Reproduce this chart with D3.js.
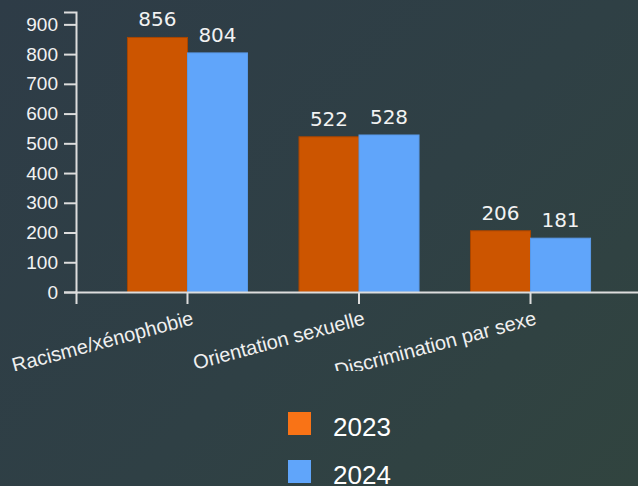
<!DOCTYPE html>
<html>
<head>
<meta charset="utf-8">
<script src="https://cdn.jsdelivr.net/npm/d3@7"></script>
<style>
  html, body { margin: 0; padding: 0; }
  body {
    width: 638px; height: 486px; overflow: hidden;
    background: linear-gradient(135deg, #2e3c47 0%, #2f4045 55%, #31443f 100%);
  }
  svg { display: block; }
</style>
</head>
<body>
<svg id="chart"></svg>
<script>
// data
const categories = ['Racisme/xénophobie', 'Orientation sexuelle', 'Discrimination par sexe'];
const years = ['2023', '2024'];
const values2023 = [856, 522, 206];
const values2024 = [804, 528, 181];
const yTicks = [0, 100, 200, 300, 400, 500, 600, 700, 800, 900];

const barColors = {'2023': '#cc5500', '2024': '#60a5fa'};
const barStrokes = {'2023': '#a84500', '2024': '#5a9ae8'};
const legendColors = {'2023': '#f97316', '2024': '#60a5fa'};

let rows = categories.map((c, i) => ({category: c, '2023': values2023[i], '2024': values2024[i]}));

let margin = {top: 12, left: 76};
let plotBottom = 292;
let chartHeight = 371;

let svg = d3.select('#chart')
    .attr('width', 638)
    .attr('height', 486);

svg.append('defs').append('clipPath')
    .attr('id', 'chart-clip')
    .append('rect')
    .attr('width', 638)
    .attr('height', chartHeight);

let chart = svg.append('g').attr('clip-path', 'url(#chart-clip)');

let maxVal = d3.max(rows, d => Math.max(d['2023'], d['2024']));

let yScale = d3.scaleLinear()
    .domain([0, maxVal * 1.1])
    .range([plotBottom, margin.top]);

let x0 = d3.scaleBand()
    .domain(categories)
    .range([margin.left, 642])
    .padding(0.3);

let x1 = d3.scaleBand()
    .domain(years)
    .range([0, x0.bandwidth()]);

// bars
let groups = chart.selectAll('.group')
    .data(rows)
    .enter().append('g')
    .attr('class', 'group')
    .attr('transform', d => 'translate(' + x0(d.category) + ',0)');

groups.selectAll('rect')
    .data(d => years.map(y => ({year: y, value: d[y]})))
    .enter().append('rect')
    .attr('x', d => x1(d.year))
    .attr('y', d => yScale(d.value))
    .attr('width', x1.bandwidth())
    .attr('height', d => plotBottom - yScale(d.value))
    .attr('fill', d => barColors[d.year])
    .attr('stroke', d => barStrokes[d.year])
    .attr('stroke-width', 1);

// value labels
groups.selectAll('.value')
    .data(d => years.map(y => ({year: y, value: d[y]})))
    .enter().append('text')
    .attr('class', 'value')
    .attr('x', d => x1(d.year) + x1.bandwidth() / 2)
    .attr('y', d => yScale(d.value) - 11)
    .attr('text-anchor', 'middle')
    .style('font-family', 'DejaVu Sans, sans-serif')
    .style('font-size', '20px')
    .style('fill', '#f2f2f2')
    .text(d => d.value);

// y axis
let yAxis = chart.append('g')
    .attr('transform', 'translate(' + margin.left + ',0)')
    .call(d3.axisLeft(yScale).tickValues(yTicks).tickSize(12).tickPadding(6));

// x axis
let xAxis = chart.append('g')
    .attr('transform', 'translate(0,' + plotBottom + ')')
    .call(d3.axisBottom(x0).tickSize(12).tickFormat(''));

[yAxis, xAxis].forEach(function (ax) {
    ax.selectAll('path, line')
        .attr('stroke', '#dddddd')
        .attr('stroke-width', 2);
});

yAxis.selectAll('text')
    .style('font-family', 'Liberation Sans, Arial, sans-serif')
    .style('font-size', '19px')
    .style('fill', '#f2f2f2');

// rotated category labels
chart.selectAll('.cat-label')
    .data(categories)
    .enter().append('text')
    .attr('class', 'cat-label')
    .attr('transform', d => 'translate(' + (x0(d) + x0.bandwidth() / 2 + 7) + ',' + (plotBottom + 32) + ') rotate(-15)')
    .attr('text-anchor', 'end')
    .style('font-family', 'Liberation Sans, Arial, sans-serif')
    .style('font-size', '20px')
    .style('fill', '#f0f0f0')
    .text(d => d);

// legend
let legend = svg.append('g')
    .attr('transform', 'translate(288,412)');

let legendItems = legend.selectAll('.legend-item')
    .data(years)
    .enter().append('g')
    .attr('class', 'legend-item')
    .attr('transform', (d, i) => 'translate(0,' + i * 48 + ')');

legendItems.append('rect')
    .attr('width', 23)
    .attr('height', 23)
    .attr('fill', d => legendColors[d]);

legendItems.append('text')
    .attr('x', 45)
    .attr('y', 23.5)
    .style('font-family', 'Liberation Sans, Arial, sans-serif')
    .style('font-size', '26px')
    .style('fill', '#ffffff')
    .text(d => d);
</script>
</body>
</html>
